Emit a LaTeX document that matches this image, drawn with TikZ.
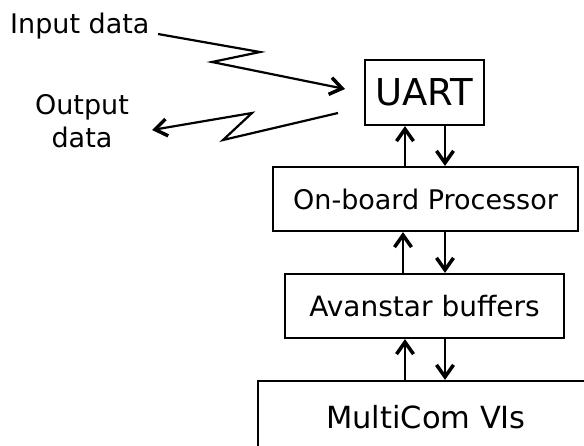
\documentclass[tikz,border=0pt]{standalone}
\usepackage{fontspec}
\setmainfont{DejaVu Sans}
\usetikzlibrary{arrows.meta}

\tikzset{
	block/.style={draw, line width=2.2pt, inner sep=0pt, minimum height=64pt,
		font=\fontsize{27}{33}\selectfont},
	label/.style={inner sep=0pt, font=\fontsize{27}{33}\selectfont},
	link/.style={line width=2.2pt, -{Straight Barb[length=12pt, width=17pt, line width=3.5pt]}},
	wave/.style={line width=2.2pt, line join=miter, -{Straight Barb[length=12pt, width=17pt, line width=3.5pt]}}
}

\begin{document}
\begin{tikzpicture}[x=1pt, y=-1pt]
		\useasboundingbox[fill=white] (0, 0) rectangle (584, 445);

		% boxes
		\node[block, minimum width=119pt, minimum height=65pt,
			font=\fontsize{37}{40}\selectfont] (uart) at (424.5, 92.5) {UART};
		\node[block, minimum width=305pt] (obp)  at (425.5, 199) {On-board Processor};
		\node[block, minimum width=279pt,
			font=\fontsize{28}{33}\selectfont] (buf)  at (424.5, 306) {Avanstar buffers};
		\node[block, minimum width=336pt, minimum height=72pt,
			font=\fontsize{30.5}{33}\selectfont] (vis) at (426, 417) {MultiCom VIs};

		% texts
		\node[label, anchor=base west] (indata) at (10, 33) {Input data};
		\node[label, align=center] (outdata) at (82, 121) {Output\\data};

		\coordinate (inStart)  at (158, 34);
		\coordinate (outStart) at (338, 113);
		\coordinate (outEnd)   at (152, 130);

		% serial links
		\draw[wave] (inStart) -- (260, 52) -- (212, 62) -- (345, 89);
		\draw[wave] (outStart) -- (223, 140) -- (252, 113) -- (outEnd);

		% up and down
		\draw[link] ([xshift=-20.5pt]obp.north)  -- ([xshift=-20.5pt]obp.north |- uart.south);
		\draw[link] ([xshift=20.5pt]uart.south)  -- ([xshift=20.5pt]uart.south |- obp.north);

		\draw[link] ([xshift=-21.5pt]buf.north)  -- ([xshift=-21.5pt]buf.north |- obp.south);
		\draw[link] ([xshift=19.5pt]obp.south)   -- ([xshift=19.5pt]obp.south |- buf.north);

		\draw[link] ([xshift=-21pt]vis.north)    -- ([xshift=-21pt]vis.north |- buf.south);
		\draw[link] ([xshift=20.5pt]buf.south)   -- ([xshift=20.5pt]buf.south |- vis.north);

\end{tikzpicture}
\end{document}
